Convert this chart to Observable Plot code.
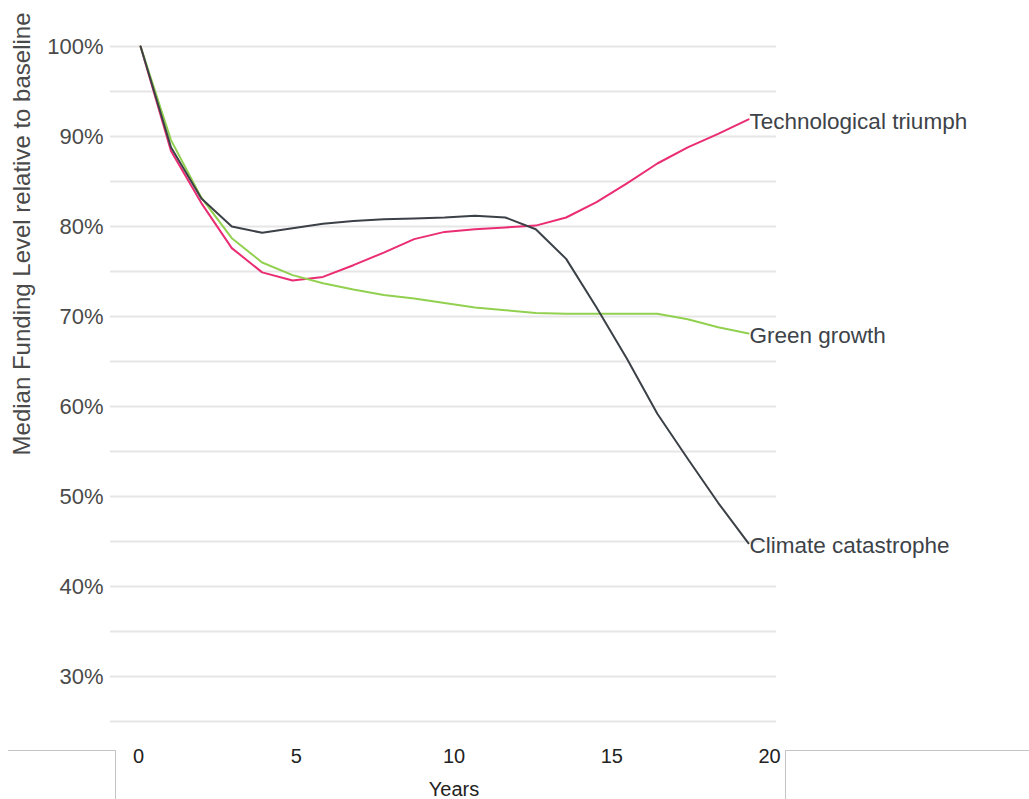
<!DOCTYPE html>
<html>
<head>
<meta charset="utf-8">
<script src="https://cdn.jsdelivr.net/npm/d3@7"></script>
<script src="https://cdn.jsdelivr.net/npm/@observablehq/plot@0.6"></script>
<style>
  html, body { margin: 0; padding: 0; background: #fff; }
  #wrap { position: relative; width: 1029px; height: 799px; overflow: hidden; font-family: "Liberation Sans", Arial, sans-serif; }
  #wrap svg { display: block; }
  .box { position: absolute; border-color: #c4c4c4; border-style: solid; border-width: 0; }
</style>
</head>
<body>
<div id="wrap">
  <div id="main"></div>
  <div id="axis"></div>
  <div class="box" style="left:8px; top:750px; width:107px; height:60px; border-top-width:1px; border-right-width:1px;"></div>
  <div class="box" style="left:785px; top:750px; width:250px; height:60px; border-top-width:1px; border-left-width:1px;"></div>
</div>
<script>
// ---- Data ----
const years = [0, 1, 2, 3, 4, 5, 6, 7, 8, 9, 10, 11, 12, 13, 14, 15, 16, 17, 18, 19, 20];
const technologicalTriumph = [100, 88.4, 82.6, 77.6, 74.9, 74.0, 74.4, 75.7, 77.1, 78.6, 79.4, 79.7, 79.9, 80.1, 81.0, 82.7, 84.8, 87.0, 88.8, 90.3, 91.9];
const greenGrowth = [100, 89.6, 83.2, 78.7, 76.0, 74.6, 73.7, 73.0, 72.4, 72.0, 71.5, 71.0, 70.7, 70.4, 70.3, 70.3, 70.3, 70.3, 69.7, 68.8, 68.1];
const climateCatastrophe = [100, 88.8, 83.1, 80.0, 79.3, 79.8, 80.3, 80.6, 80.8, 80.9, 81.0, 81.2, 81.0, 79.7, 76.4, 71.0, 65.3, 59.2, 54.2, 49.3, 44.8];
const seriesNames = ["Technological triumph", "Green growth", "Climate catastrophe"];
const seriesColors = ["#ea2d73", "#92d050", "#3b4147"];
const gridTicks = [25, 30, 35, 40, 45, 50, 55, 60, 65, 70, 75, 80, 85, 90, 95, 100];
const yTickLabels = [30, 40, 50, 60, 70, 80, 90, 100];
const xTickLabels = [0, 5, 10, 15, 20];
const yTitle = "Median Funding Level relative to baseline";
const xTitle = "Years";

const seriesValues = [technologicalTriumph, greenGrowth, climateCatastrophe];
const rows = [];
seriesNames.forEach((name, i) => {
  years.forEach((yr, j) => rows.push({series: name, year: yr, value: seriesValues[i][j]}));
});
const lastRows = seriesNames.map(name => rows.filter(r => r.series === name).at(-1));

const font = '"Liberation Sans", Arial, sans-serif';

const main = Plot.plot({
  width: 1029,
  height: 740,
  marginLeft: 110,
  marginRight: 253,
  marginTop: 46,
  marginBottom: 19,
  style: {fontFamily: font, background: "#fff"},
  x: {domain: [-0.99, 20.92], axis: null},
  y: {domain: [25, 100]},
  color: {domain: seriesNames, range: seriesColors},
  marks: [
    Plot.ruleY(gridTicks, {stroke: "#e6e6e6", strokeWidth: 2}),
    Plot.axisY(yTickLabels, {
      tickSize: 0, tickPadding: 7, fontSize: 22, fill: "#4a4a4a",
      tickFormat: d => d + "%", label: null
    }),
    Plot.text([yTitle], {
      frameAnchor: "top-left", rotate: -90, textAnchor: "end", lineAnchor: "middle",
      dx: -88, dy: -34, fontSize: 24, fill: "#4a4a4a"
    }),
    Plot.line(rows, {x: "year", y: "value", z: "series", stroke: "series", strokeWidth: 2}),
    Plot.text(lastRows, {
      x: "year", y: "value", text: "series", textAnchor: "start", dx: 1, dy: 2,
      fontSize: 22.5, fill: "#3d4349"
    })
  ]
});
document.getElementById("main").appendChild(main);

const axis = Plot.plot({
  width: 1029,
  height: 59,
  marginLeft: 138,
  marginRight: 260,
  marginTop: 0,
  marginBottom: 52,
  style: {fontFamily: font, background: "transparent"},
  x: {domain: [0, 20]},
  marks: [
    Plot.axisX(xTickLabels, {
      tickSize: 0, tickPadding: 1, fontSize: 20, fill: "#222",
      label: xTitle, labelAnchor: "center", labelArrow: "none", labelOffset: 48
    })
  ]
});
document.getElementById("axis").appendChild(axis);
</script>
</body>
</html>
